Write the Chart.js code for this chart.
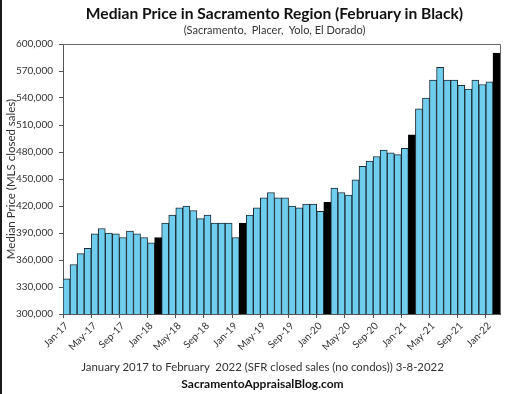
<!DOCTYPE html>
<html>
<head>
<meta charset="utf-8">
<script src="https://cdn.jsdelivr.net/npm/chart.js@4.4.1/dist/chart.umd.min.js"></script>
<style>
  html, body { margin: 0; padding: 0; background: #fff; }
  #wrap { position: relative; width: 509px; height: 394px; overflow: hidden; font-family: Lato, "Open Sans", sans-serif; color: #222; }
  #wrap::before { content: ""; position: absolute; left: 0; top: 0; width: 2px; height: 394px; background: #1a1a1a; z-index: 2; }
  canvas { position: absolute; left: 0; top: 0; }
  .txt { position: absolute; left: 0; width: 509px; text-align: center; white-space: nowrap; }
  #title { top: 4px; left: 20px; font-size: 15.6px; font-weight: 700; color: #111; }
  #sub { top: 23px; left: 20px; font-size: 11px; color: #333; }
  #foot1 { top: 360px; left: 8px; font-size: 11.4px; color: #333; }
  #foot2 { top: 376px; left: 8px; font-size: 12px; font-weight: 700; color: #111; }
</style>
</head>
<body>
<div id="wrap">
  <canvas id="chart" width="509" height="394"></canvas>
  <div class="txt" id="title">Median Price in Sacramento Region (February in Black)</div>
  <div class="txt" id="sub">(Sacramento,&nbsp; Placer,&nbsp; Yolo, El Dorado)</div>
  <div class="txt" id="foot1">January 2017 to February&nbsp; 2022 (SFR closed sales (no condos)) 3-8-2022</div>
  <div class="txt" id="foot2">SacramentoAppraisalBlog.com</div>
</div>
<script>
const months = [
  "Jan-17", "Feb-17", "Mar-17", "Apr-17", "May-17", "Jun-17", "Jul-17", "Aug-17", "Sep-17", "Oct-17", "Nov-17", "Dec-17",
  "Jan-18", "Feb-18", "Mar-18", "Apr-18", "May-18", "Jun-18", "Jul-18", "Aug-18", "Sep-18", "Oct-18", "Nov-18", "Dec-18",
  "Jan-19", "Feb-19", "Mar-19", "Apr-19", "May-19", "Jun-19", "Jul-19", "Aug-19", "Sep-19", "Oct-19", "Nov-19", "Dec-19",
  "Jan-20", "Feb-20", "Mar-20", "Apr-20", "May-20", "Jun-20", "Jul-20", "Aug-20", "Sep-20", "Oct-20", "Nov-20", "Dec-20",
  "Jan-21", "Feb-21", "Mar-21", "Apr-21", "May-21", "Jun-21", "Jul-21", "Aug-21", "Sep-21", "Oct-21", "Nov-21", "Dec-21",
  "Jan-22", "Feb-22"
];

const medianPrice = [
  339000, 355000, 367000, 373000, 389000, 395000, 390000, 389000, 385000, 392000, 389000, 385000,
  379000, 385000, 401000, 410000, 418000, 420000, 415000, 406000, 410000, 401000, 401000, 401000,
  385000, 401000, 410000, 418000, 429000, 435000, 429000, 429000, 420000, 418000, 422000, 422000,
  414000, 424000, 440000, 435000, 432000, 449000, 464000, 470000, 475000, 482000, 479000, 477000,
  484000, 499000, 528000, 540000, 560000, 574000, 560000, 560000, 554000, 550000, 560000, 555000,
  558000, 590000
];

// months drawn in black
const blackMonths = ["Feb-18", "Feb-19", "Feb-20", "Feb-21", "Feb-22"];

const yTicks = [300000, 330000, 360000, 390000, 420000, 450000, 480000, 510000, 540000, 570000, 600000];

const BLUE = "#6fcdee";
const OUTLINE = "#1d2b33";

const isBlack = (m) => blackMonths.includes(m);

// thin frame around the plot (top + right edges like the excel chart)
const plotFrame = {
  id: "plotFrame",
  afterDraw(chart) {
    const { ctx, chartArea: a } = chart;
    ctx.save();
    ctx.strokeStyle = "#6a6a6a";
    ctx.lineWidth = 1;
    ctx.beginPath();
    ctx.moveTo(a.left, a.top + 0.5);
    ctx.lineTo(a.right + 0.5, a.top + 0.5);
    ctx.lineTo(a.right + 0.5, a.bottom);
    ctx.stroke();
    ctx.restore();
  },
};

new Chart(document.getElementById("chart"), {
  type: "bar",
  data: {
    labels: months,
    datasets: [{
      data: medianPrice,
      backgroundColor: months.map((m) => (isBlack(m) ? "#000" : BLUE)),
      borderColor: months.map((m) => (isBlack(m) ? "#000" : OUTLINE)),
      borderWidth: 1,
      borderSkipped: "bottom",
      categoryPercentage: 1,
      barPercentage: 1,
    }],
  },
  options: {
    responsive: false,
    animation: false,
    layout: { padding: { left: 0, right: 9, top: 44, bottom: 0 } },
    plugins: { legend: { display: false }, tooltip: { enabled: false } },
    scales: {
      x: {
        afterFit: (s) => { s.height = 80; },
        grid: {
          offset: true,
          drawOnChartArea: false,
          tickLength: 4,
          color: (c) => (c.index % 4 === 0 ? "#555" : "rgba(0,0,0,0)"),
        },
        border: { display: true, color: "#555" },
        ticks: {
          autoSkip: false,
          maxRotation: 45,
          minRotation: 45,
          padding: 2,
          color: "#333",
          font: { family: "Lato", size: 10 },
          callback: (v, i) => (i % 4 === 0 ? months[i] : ""),
        },
      },
      y: {
        min: 300000,
        max: 600000,
        afterFit: (s) => { s.width = 63; },
        afterBuildTicks: (s) => { s.ticks = yTicks.map((v) => ({ value: v })); },
        grid: { drawOnChartArea: false, tickLength: 4, color: "#555" },
        border: { display: true, color: "#555" },
        ticks: {
          padding: 6,
          color: "#333",
          font: { family: "Lato", size: 10 },
          callback: (v) => v.toLocaleString("en-US"),
        },
        title: {
          display: true,
          text: "Median Price (MLS closed sales)",
          color: "#333",
          font: { family: "Lato", size: 11.5 },
          padding: { top: 4, bottom: 0 },
        },
      },
    },
  },
  plugins: [plotFrame],
});
</script>
</body>
</html>
